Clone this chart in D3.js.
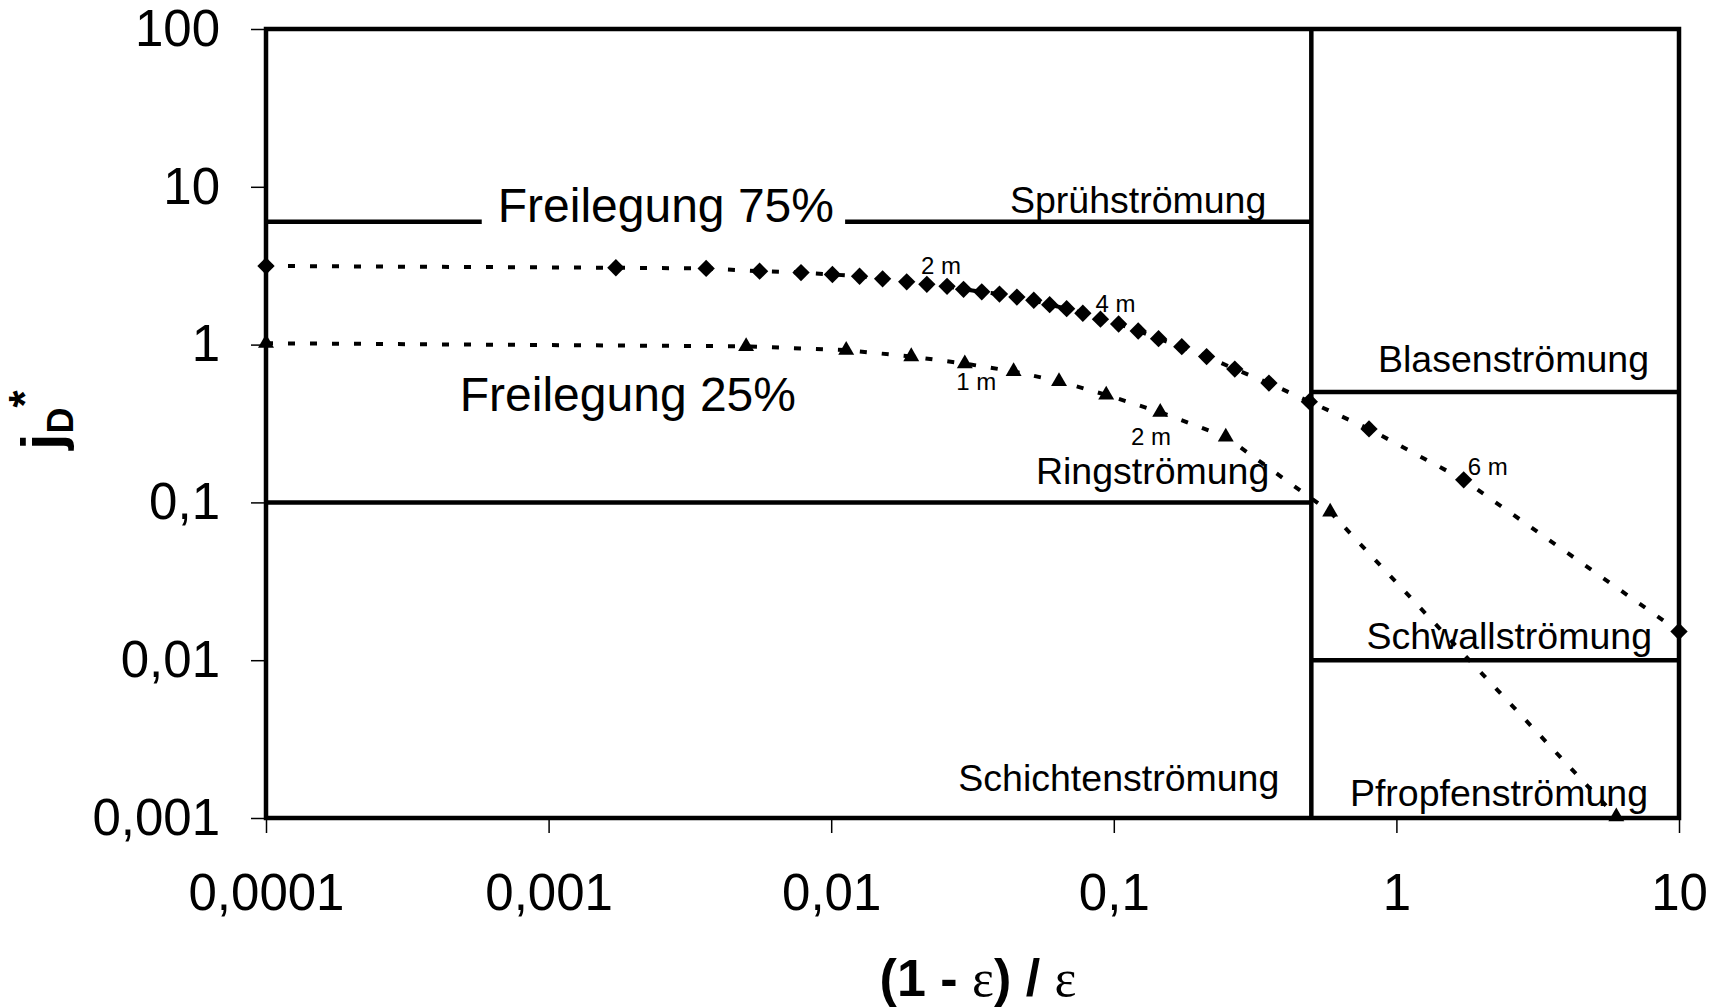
<!DOCTYPE html>
<html>
<head>
<meta charset="utf-8">
<script src="https://cdn.jsdelivr.net/npm/d3@7"></script>
<style>
body { margin: 0; background: #fff; }
svg text { font-family: "Liberation Sans", Arial, sans-serif; fill: #000; }
</style>
</head>
<body>
<script>
// Achsen
let xTicks = [1e-4, 1e-3, 1e-2, 1e-1, 1, 10]
let xTickLabels = ['0,0001', '0,001', '0,01', '0,1', '1', '10']
let yTicks = [1e-3, 1e-2, 1e-1, 1, 10, 100]
let yTickLabels = ['0,001', '0,01', '0,1', '1', '10', '100']

// Freilegung 75% (Rauten)
let x75 = [0.0001, 0.00173, 0.00361, 0.00558, 0.00782, 0.0101, 0.0126, 0.0152, 0.0185, 0.0218,
	0.0257, 0.0294, 0.0341, 0.0394, 0.0454, 0.0521, 0.0593, 0.0681, 0.0777, 0.0897,
	0.104, 0.122, 0.144, 0.174, 0.213, 0.268, 0.354, 0.492, 0.80, 1.73, 10]
let y75 = [3.15, 3.07, 3.04, 2.92, 2.86, 2.78, 2.71, 2.61, 2.50, 2.41,
	2.34, 2.24, 2.16, 2.09, 2.00, 1.91, 1.79, 1.69, 1.58, 1.45,
	1.35, 1.22, 1.09, 0.97, 0.84, 0.70, 0.57, 0.435, 0.292, 0.139, 0.0152]

// Freilegung 25% (Dreiecke)
let x25 = [0.0001, 0.0050, 0.0113, 0.0192, 0.0297, 0.0442, 0.064, 0.094, 0.146, 0.249, 0.583, 6.0]
let y25 = [1.02, 0.975, 0.923, 0.84, 0.758, 0.676, 0.585, 0.48, 0.373, 0.26, 0.087, 0.00102]

// Grenzlinien der Strömungsformen (x1, x2, y1, y2)
let segX1 = [1e-4, 0.0112, 1e-4, 0.5, 0.5, 0.5]
let segX2 = [5.8e-4, 0.5, 0.5, 10, 10, 0.5]
let segY1 = [6, 6, 0.1, 0.5, 0.01, 0.001]
let segY2 = [6, 6, 0.1, 0.5, 0.01, 100]

// Strömungsformen, rechtsbündig an einer Grenzlinie
let regionNames = ['Sprühströmung', 'Blasenströmung', 'Ringströmung', 'Schichtenströmung', 'Schwallströmung', 'Pfropfenströmung']
let regionAtX = [0.5, 10, 0.5, 0.5, 10, 10]
let regionAtY = [6, 0.5, 0.1, 0.001, 0.01, 0.001]

// Längenmarken
let markText = ['2 m', '4 m', '6 m', '1 m', '2 m']
let markX = [0.0208, 0.0861, 1.79, 0.0277, 0.115]
let markY = [2.79, 1.62, 0.150, 0.512, 0.230]


let width = 1730, height = 1008
let svg = d3.select('body').append('svg')
	.attr('width', width)
	.attr('height', height)

let x = d3.scaleLog().domain([1e-4, 10]).range([266, 1679])
let y = d3.scaleLog().domain([1e-3, 100]).range([818, 29])

// Ticks
let gx = svg.append('g')
	.attr('transform', `translate(0,${y(1e-3)})`)
	.call(d3.axisBottom(x).tickValues(xTicks).tickFormat((d, i) => xTickLabels[i]).tickSize(15).tickPadding(41))
let gy = svg.append('g')
	.attr('transform', `translate(${x(1e-4)},0)`)
	.call(d3.axisLeft(y).tickValues(yTicks).tickFormat((d, i) => yTickLabels[i]).tickSize(15).tickPadding(31))
;[gx, gy].forEach(g => {
	g.select('.domain').remove()
	g.attr('font-size', 51).attr('font-family', '"Liberation Sans", Arial, sans-serif')
	g.selectAll('line').attr('stroke', '#000').attr('stroke-width', 1.5)
	g.selectAll('text').attr('fill', '#000')
})

// Rahmen
svg.append('rect')
	.attr('x', x(1e-4))
	.attr('y', y(100))
	.attr('width', x(10) - x(1e-4))
	.attr('height', y(1e-3) - y(100))
	.attr('fill', 'none')
	.attr('stroke', '#000')
	.attr('stroke-width', 4.5)

svg.append('g').selectAll('line')
	.data(d3.range(segX1.length))
	.join('line')
	.attr('x1', i => x(segX1[i]))
	.attr('x2', i => x(segX2[i]))
	.attr('y1', i => y(segY1[i]))
	.attr('y2', i => y(segY2[i]))
	.attr('stroke', '#000')
	.attr('stroke-width', 4.5)

// Kurven
let line = d3.line().x(d => x(d[0])).y(d => y(d[1]))
let s75 = d3.zip(x75, y75)
let s25 = d3.zip(x25, y25)
;[s75, s25].forEach(s => {
	svg.append('path')
		.datum(s)
		.attr('d', line)
		.attr('fill', 'none')
		.attr('stroke', '#000')
		.attr('stroke-width', 4)
		.attr('stroke-dasharray', '7,15')
})
svg.append('g').selectAll('path')
	.data(s75)
	.join('path')
	.attr('d', d3.symbol(d3.symbolSquare, 150))
	.attr('transform', d => `translate(${x(d[0])},${y(d[1])}) rotate(45)`)
	.attr('fill', '#000')
svg.append('g').selectAll('path')
	.data(s25)
	.join('path')
	.attr('d', d3.symbol(d3.symbolTriangle, 110))
	.attr('transform', d => `translate(${x(d[0])},${y(d[1])})`)
	.attr('fill', '#000')

// Beschriftung
let regionDx = [-45, -30, -42, -32, -27, -31]
let regionDy = [-9, -20, -18, -27, -11, -12]
svg.append('g').selectAll('text')
	.data(regionNames)
	.join('text')
	.attr('x', (d, i) => x(regionAtX[i]) + regionDx[i])
	.attr('y', (d, i) => y(regionAtY[i]) + regionDy[i])
	.attr('text-anchor', 'end')
	.attr('font-size', 37.5)
	.text(d => d)

svg.append('text')
	.attr('x', x(segX2[0]) + 16)
	.attr('y', y(6))
	.attr('font-size', 48)
	.text('Freilegung 75%')
svg.append('text')
	.attr('x', x(4.85e-4))
	.attr('y', y(0.377))
	.attr('font-size', 48)
	.text('Freilegung 25%')

svg.append('g').selectAll('text')
	.data(markText)
	.join('text')
	.attr('x', (d, i) => x(markX[i]))
	.attr('y', (d, i) => y(markY[i]))
	.attr('font-size', 24)
	.text(d => d)

// Achsentitel
let xt = svg.append('text')
	.attr('x', 978)
	.attr('y', 996)
	.attr('text-anchor', 'middle')
	.attr('font-size', 52)
	.attr('font-weight', 'bold')
xt.append('tspan').text('(1 - ')
xt.append('tspan').attr('font-family', '"Liberation Serif", serif').attr('font-weight', 'normal').text('ε')
xt.append('tspan').text(') / ')
xt.append('tspan').attr('font-family', '"Liberation Serif", serif').attr('font-weight', 'normal').text('ε')

let yt = svg.append('text')
	.attr('transform', 'translate(62,420) rotate(-90)')
	.attr('text-anchor', 'middle')
	.attr('font-size', 58)
	.attr('font-weight', 'bold')
yt.append('tspan').text('j')
yt.append('tspan').attr('font-size', 36).attr('dy', 11).text('D')
yt.append('tspan').attr('font-size', 44).attr('dy', -33).text('*')
</script>
</body>
</html>
